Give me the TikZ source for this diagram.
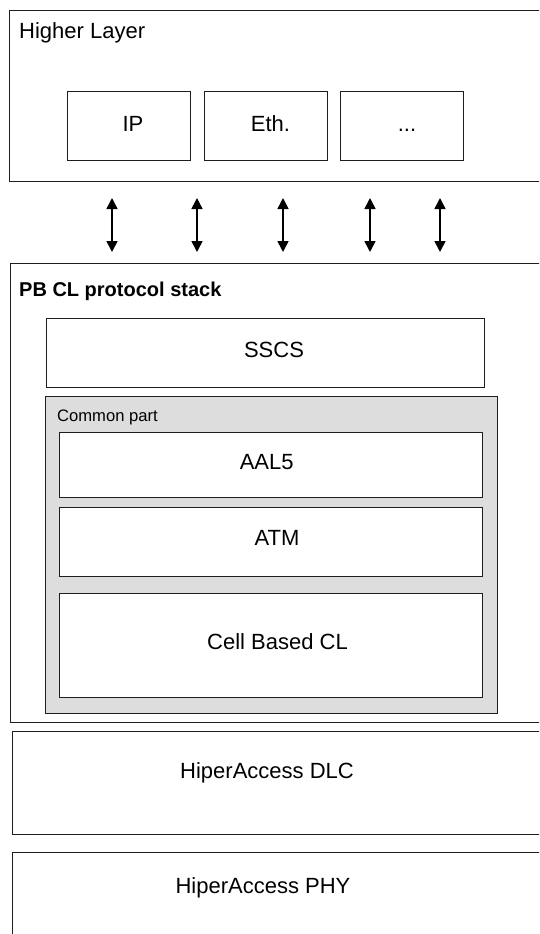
\documentclass[tikz,border=0pt]{standalone}
\usepackage{fontspec}
\setmainfont{Liberation Sans}
\usetikzlibrary{arrows.meta}
\definecolor{cpgray}{RGB}{221,221,221}
\definecolor{edge}{RGB}{30,30,30}
\tikzset{
  box/.style={draw=edge, line width=1pt, fill=white, rectangle, anchor=north west, inner sep=0pt, outer sep=0pt},
  graybox/.style={box, fill=cpgray},
  lbl/.style={inner sep=0pt, anchor=base, font=\fontsize{22}{26}\selectfont},
  titlelbl/.style={inner sep=0pt, anchor=base west, font=\fontsize{22}{26}\selectfont},
  boldlbl/.style={inner sep=0pt, anchor=base west, font=\fontsize{20}{24}\selectfont\bfseries},
  smalllbl/.style={inner sep=0pt, anchor=base west, font=\fontsize{16.6}{20}\selectfont},
  arr/.style={line width=1.6pt, {Triangle[width=11pt,length=11pt]}-{Triangle[width=11pt,length=11pt]}}
}
\begin{document}
\begin{tikzpicture}[x=1pt,y=-1pt]
\useasboundingbox (0,0) rectangle (539,934);
\clip (0,0) rectangle (539,934);
% Higher layer
\node[box, minimum width=551pt, minimum height=170.5pt] (hl) at (9,11) {};
\node[titlelbl] (hlt) at (19,38.5) {Higher Layer};
\node[box, minimum width=123pt, minimum height=69pt] (ip) at (67,91) {};
\node[box, minimum width=123pt, minimum height=69pt] (eth) at (204,91) {};
\node[box, minimum width=123pt, minimum height=69pt] (dots) at (340,91) {};
\node[lbl] (ipt) at (133,131.5) {IP};
\node[lbl] (etht) at (270.5,131.5) {Eth.};
\node[lbl] (dotst) at (407,131.5) {...};
% PB CL stack
\node[box, minimum width=550pt, minimum height=459pt] (pb) at (10.5,263) {};
\node[boldlbl] (pbt) at (19,296.7) {PB CL protocol stack};
\node[box, minimum width=438pt, minimum height=69pt] (sscs) at (46,318) {};
\node[lbl] (sscst) at (274,357.3) {SSCS};
\node[graybox, minimum width=452pt, minimum height=317pt] (cp) at (45,396) {};
\node[smalllbl] (cpt) at (57,421.7) {Common part};
\node[box, minimum width=423pt, minimum height=65pt] (aal) at (59,432) {};
\node[lbl] (aalt) at (266.7,469) {AAL5};
\node[box, minimum width=423pt, minimum height=69pt] (atm) at (59,507) {};
\node[lbl] (atmt) at (277,545) {ATM};
\node[box, minimum width=423pt, minimum height=104pt] (cell) at (59,593) {};
\node[lbl] (cellt) at (277.5,649) {Cell Based CL};
% DLC / PHY
\node[box, minimum width=550pt, minimum height=103pt] (dlc) at (12,731) {};
\node[lbl] (dlct) at (267,778) {HiperAccess DLC};
\node[box, minimum width=550pt, minimum height=120pt] (phy) at (12,852) {};
\node[lbl] (phyt) at (263,893) {HiperAccess PHY};
% arrows
\foreach \i/\x in {1/112,2/197,3/283,4/370,5/440}{
  \coordinate (a\i t) at (\x,198);
  \coordinate (a\i b) at (\x,252);
  \draw[arr] (a\i t) -- (a\i b);
}
\end{tikzpicture}
\end{document}
